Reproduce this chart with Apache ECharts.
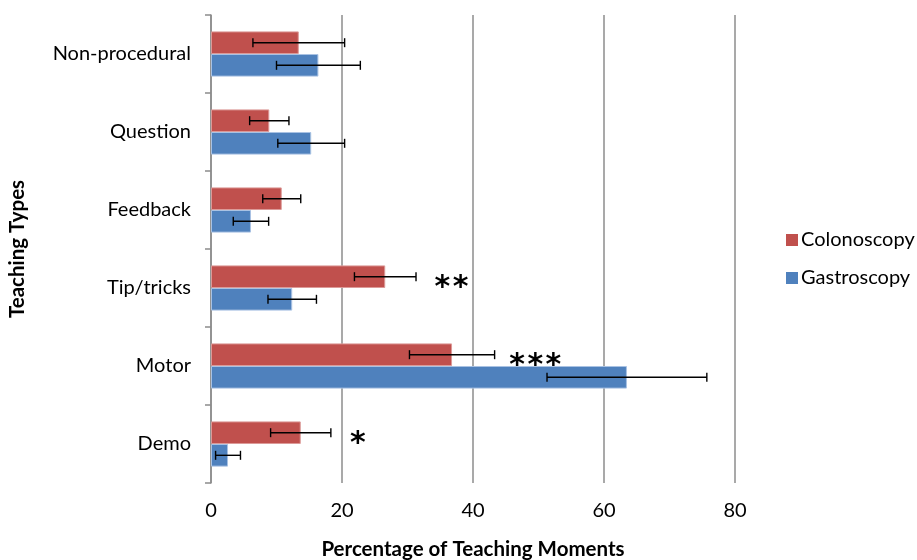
<!DOCTYPE html>
<html>
<head>
<meta charset="utf-8">
<script src="https://cdn.jsdelivr.net/npm/echarts@6/dist/echarts.min.js"></script>
<style>
  html, body { margin: 0; padding: 0; background: #fff; }
  #chart { width: 917px; height: 560px; }
</style>
</head>
<body>
<div id="chart"></div>
<script>
// Teaching types, bottom to top along the category axis
const categories = ['Demo', 'Motor', 'Tip/tricks', 'Feedback', 'Question', 'Non-procedural'];

// Mean percentage of teaching moments
const colonoscopy = [13.7, 36.8, 26.6, 10.8, 8.9, 13.4];
const gastroscopy = [2.6, 63.5, 12.4, 6.1, 15.3, 16.4];

// Error bar half-widths
const colonoscopyErr = [4.6, 6.5, 4.7, 2.9, 3.0, 7.0];
const gastroscopyErr = [1.9, 12.2, 3.7, 2.7, 5.1, 6.4];

// Significance markers: [number of stars, x value, category]
const significance = [
  [1, 22.4, 'Demo'],
  [3, 49.5, 'Motor'],
  [2, 36.7, 'Tip/tricks']
];

const xTicks = [0, 20, 40, 60, 80];

const RED = '#C0504D';
const BLUE = '#4F81BD';
const FONT = 'Lato, "Open Sans", sans-serif';

const chart = echarts.init(document.getElementById('chart'));

// Horizontal error bar with vertical caps, drawn on the bar's slot
// dir = -1 for the upper bar of a group, +1 for the lower one
function errorBarRenderer(dir, err, means) {
  return function (params, api) {
    const cat = api.value(0);
    const mean = means[cat];
    const e = err[cat];
    const band = api.size([0, 1])[1];
    const barW = band * 0.29;
    const y = api.coord([mean, cat])[1] + dir * barW / 2;
    const lo = api.coord([mean - e, cat])[0];
    const hi = api.coord([mean + e, cat])[0];
    const cap = 4.5;
    const style = { stroke: '#000', lineWidth: 1.4 };
    return {
      type: 'group',
      children: [
        { type: 'line', shape: { x1: lo, y1: y, x2: hi, y2: y }, style },
        { type: 'line', shape: { x1: lo, y1: y - cap, x2: lo, y2: y + cap }, style },
        { type: 'line', shape: { x1: hi, y1: y - cap, x2: hi, y2: y + cap }, style }
      ]
    };
  };
}

const idx = categories.map((c, i) => [i]);

function stars(n) {
  const parts = [];
  for (let i = 0; i < n; i++) parts.push('{a|*}');
  return parts.join('{s| }');
}

chart.setOption({
  animation: false,
  textStyle: { fontFamily: FONT },
  grid: { left: 211, right: 182, top: 15, bottom: 77, containLabel: false, outerBoundsMode: 'none' },
  legend: {
    data: ['Colonoscopy', 'Gastroscopy'],
    orient: 'vertical',
    left: 781,
    top: 225,
    itemWidth: 12,
    itemHeight: 12,
    itemGap: 18,
    icon: 'rect',
    itemStyle: { borderWidth: 0 },
    textStyle: { fontSize: 20, color: '#000', fontFamily: FONT, padding: [0, 0, 0, -2] }
  },
  xAxis: {
    type: 'value',
    min: 0,
    max: 80,
    interval: 20,
    name: 'Percentage of Teaching Moments',
    nameLocation: 'middle',
    nameGap: 56,
    nameTextStyle: { fontSize: 20.5, fontWeight: 'bold', color: '#000', fontFamily: FONT },
    axisLine: { show: false },
    axisTick: { show: false },
    axisLabel: { fontSize: 20, color: '#000', margin: 18, fontFamily: FONT,
      formatter: v => xTicks.includes(v) ? String(v) : '' },
    splitLine: { show: true, lineStyle: { color: '#8c8c8c', width: 1.5 } }
  },
  yAxis: {
    type: 'category',
    data: categories,
    name: 'Teaching Types',
    nameLocation: 'middle',
    nameGap: 183,
    nameRotate: 90,
    nameTextStyle: { fontSize: 20.5, fontWeight: 'bold', color: '#000', fontFamily: FONT },
    axisLine: { show: true, lineStyle: { color: '#8c8c8c', width: 1.5 } },
    axisTick: { show: true, length: 6, lineStyle: { color: '#8c8c8c', width: 1.5 } },
    axisLabel: { fontSize: 20, color: '#000', margin: 20, fontFamily: FONT }
  },
  series: [
    {
      name: 'Colonoscopy',
      type: 'bar',
      data: colonoscopy,
      barWidth: '29%',
      barGap: '0%',
      itemStyle: { color: RED, borderColor: '#dc9a98', borderWidth: 1 },
      z: 2,
      markPoint: {
        symbol: 'circle',
        symbolSize: 0,
        label: {
          show: true,
          position: 'inside',
          offset: [0, 12],
          formatter: p => stars(p.value),
          rich: {
            a: { fontSize: 30, fontWeight: 'bold', color: '#000', fontFamily: '"DejaVu Sans", sans-serif', lineHeight: 30 },
            s: { fontSize: 8, fontFamily: '"DejaVu Sans", sans-serif' }
          }
        },
        data: significance.map(s => ({ value: s[0], coord: [s[1], s[2]] }))
      }
    },
    {
      name: 'Gastroscopy',
      type: 'bar',
      data: gastroscopy,
      barWidth: '29%',
      barGap: '0%',
      itemStyle: { color: BLUE, borderColor: '#a9c2e3', borderWidth: 1 },
      z: 2
    },
    {
      type: 'custom',
      name: 'colonErr',
      data: idx,
      encode: { y: 0 },
      renderItem: errorBarRenderer(-1, colonoscopyErr, colonoscopy),
      z: 5,
      silent: true
    },
    {
      type: 'custom',
      name: 'gastroErr',
      data: idx,
      encode: { y: 0 },
      renderItem: errorBarRenderer(1, gastroscopyErr, gastroscopy),
      z: 5,
      silent: true
    }
  ]
});
</script>
</body>
</html>
